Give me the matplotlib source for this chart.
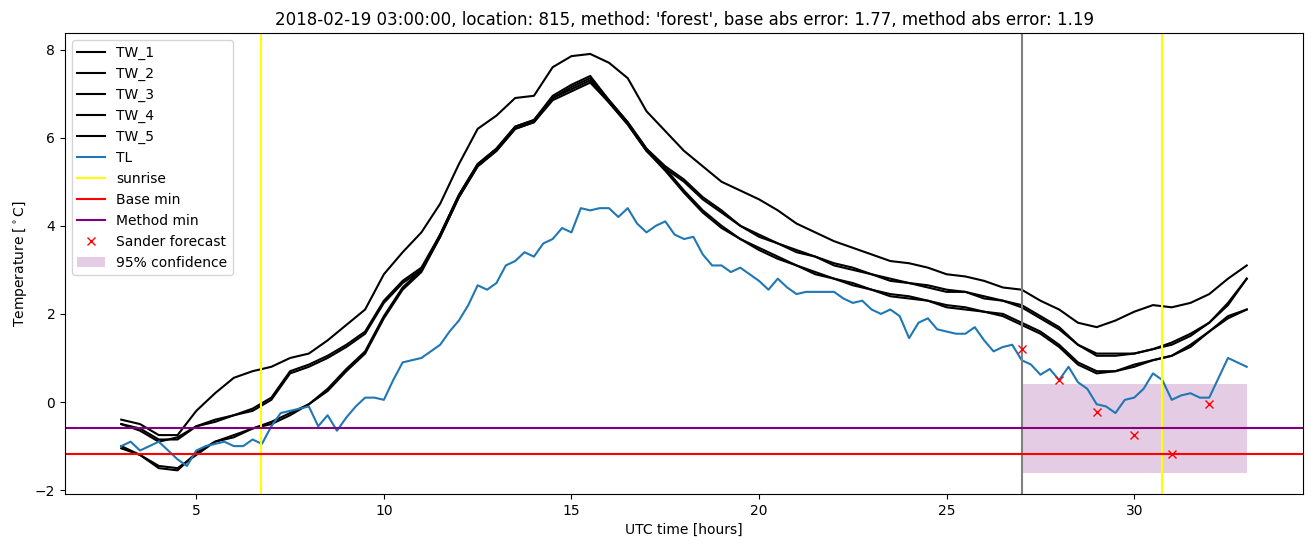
import numpy as np
import matplotlib
matplotlib.use("Agg")
import matplotlib.pyplot as plt

# half-hourly wet-bulb series, 03:00 to 33:00
tw_hours = np.arange(3.0, 33.01, 0.5)
tw_1 = [-0.4, -0.5, -0.75, -0.75, -0.2, 0.2, 0.55, 0.7, 0.8, 1.0, 1.1, 1.4, 1.75, 2.1, 2.9,
        3.4, 3.85, 4.5, 5.4, 6.2, 6.5, 6.9, 6.95, 7.6, 7.85, 7.9, 7.7, 7.35, 6.6, 6.15, 5.7,
        5.35, 5.0, 4.8, 4.6, 4.35, 4.05, 3.85, 3.65, 3.5, 3.35, 3.2, 3.15, 3.05, 2.9, 2.85,
        2.75, 2.6, 2.55, 2.3, 2.1, 1.8, 1.7, 1.85, 2.05, 2.2, 2.15, 2.25, 2.45, 2.8, 3.1]
tw_2 = [-0.5, -0.6, -0.85, -0.85, -0.55, -0.4, -0.3, -0.15, 0.1, 0.7, 0.85, 1.05, 1.3, 1.6,
        2.3, 2.75, 3.05, 3.8, 4.7, 5.4, 5.75, 6.25, 6.4, 6.95, 7.2, 7.4, 6.85, 6.35, 5.75, 5.35,
        5.05, 4.65, 4.35, 4.0, 3.8, 3.6, 3.45, 3.3, 3.15, 3.05, 2.9, 2.8, 2.7, 2.65, 2.55, 2.5,
        2.4, 2.3, 2.2, 1.95, 1.7, 1.3, 1.1, 1.1, 1.1, 1.2, 1.35, 1.55, 1.8, 2.25, 2.8]
tw_3 = [-0.5, -0.65, -0.9, -0.8, -0.55, -0.45, -0.3, -0.2, 0.05, 0.65, 0.8, 1.0, 1.25, 1.55,
        2.25, 2.7, 3.0, 3.75, 4.65, 5.35, 5.7, 6.2, 6.35, 6.9, 7.1, 7.3, 6.8, 6.3, 5.7, 5.3,
        5.0, 4.6, 4.3, 4.0, 3.75, 3.6, 3.4, 3.3, 3.1, 3.0, 2.9, 2.75, 2.7, 2.6, 2.5, 2.5,
        2.35, 2.3, 2.15, 1.9, 1.65, 1.3, 1.05, 1.05, 1.1, 1.2, 1.3, 1.5, 1.8, 2.2, 2.8]
tw_4 = [-1.0, -1.2, -1.45, -1.5, -1.2, -0.9, -0.75, -0.6, -0.45, -0.25, -0.05, 0.3, 0.75,
        1.15, 1.95, 2.6, 3.0, 3.8, 4.7, 5.4, 5.75, 6.25, 6.4, 6.9, 7.15, 7.35, 6.85, 6.35,
        5.75, 5.3, 4.8, 4.35, 4.0, 3.7, 3.5, 3.3, 3.1, 2.95, 2.8, 2.7, 2.55, 2.45, 2.4, 2.3,
        2.2, 2.15, 2.05, 2.0, 1.8, 1.6, 1.3, 0.9, 0.7, 0.7, 0.85, 0.95, 1.05, 1.3, 1.6, 1.95, 2.1]
tw_5 = [-1.05, -1.2, -1.5, -1.55, -1.15, -0.9, -0.8, -0.6, -0.5, -0.3, -0.05, 0.25, 0.7,
        1.1, 1.9, 2.55, 2.95, 3.75, 4.65, 5.35, 5.7, 6.2, 6.35, 6.85, 7.05, 7.25, 6.8, 6.3,
        5.7, 5.25, 4.75, 4.3, 3.95, 3.7, 3.45, 3.25, 3.1, 2.9, 2.8, 2.65, 2.55, 2.4, 2.35, 2.3,
        2.15, 2.1, 2.05, 1.95, 1.75, 1.55, 1.25, 0.85, 0.65, 0.7, 0.8, 0.95, 1.05, 1.25, 1.6, 1.9, 2.1]

# quarter-hourly air temperature
tl_hours = np.arange(3.0, 33.01, 0.25)
tl = [-1.0, -0.9, -1.1, -1.0, -0.9, -1.1, -1.3, -1.45, -1.1, -1.0, -0.95, -0.9, -1.0, -1.0,
      -0.85, -0.95, -0.55, -0.25, -0.2, -0.15, -0.1, -0.55, -0.3, -0.65, -0.35, -0.1, 0.1,
      0.1, 0.05, 0.5, 0.9, 0.95, 1.0, 1.15, 1.3, 1.6, 1.85, 2.2, 2.65, 2.55, 2.7, 3.1, 3.2,
      3.4, 3.3, 3.6, 3.7, 3.95, 3.85, 4.4, 4.35, 4.4, 4.4, 4.2, 4.4, 4.05, 3.85, 4.0, 4.1,
      3.8, 3.7, 3.75, 3.35, 3.1, 3.1, 2.95, 3.05, 2.9, 2.75, 2.55, 2.8, 2.6, 2.45, 2.5, 2.5,
      2.5, 2.5, 2.35, 2.25, 2.3, 2.1, 2.0, 2.1, 1.95, 1.45, 1.8, 1.9, 1.65, 1.6, 1.55, 1.55,
      1.7, 1.4, 1.15, 1.25, 1.3, 0.95, 0.85, 0.62, 0.75, 0.5, 0.8, 0.45, 0.3, -0.05, -0.1,
      -0.25, 0.05, 0.1, 0.3, 0.65, 0.5, 0.05, 0.15, 0.2, 0.1, 0.1, 0.55, 1.0, 0.9, 0.8]

sunrise = [6.73, 30.73]
forecast_start = 27.0
base_min = -1.17
method_min = -0.58
sander_hours = [27, 28, 29, 30, 31, 32]
sander_temp = [1.2, 0.51, -0.23, -0.74, -1.17, -0.05]
conf_hours = [27.0, 33.0]
conf_low = -1.61
conf_high = 0.41

fig = plt.figure(figsize=(13.13, 5.47), dpi=100)
ax = fig.add_subplot(111)
fig.subplots_adjust(left=0.0495, right=0.9924, bottom=0.097, top=0.9397)

for i, tw in enumerate([tw_1, tw_2, tw_3, tw_4, tw_5]):
    ax.plot(tw_hours, tw, color='black', label=f"TW_{i + 1}")
ax.plot(tl_hours, tl, label='TL')

ax.axvline(sunrise[0], color='yellow', label='sunrise')
ax.axvline(sunrise[1], color='yellow')
ax.axvline(forecast_start, color='grey')
ax.axhline(base_min, color='red', label='Base min')
ax.axhline(method_min, color='purple', label='Method min')
ax.plot(sander_hours, sander_temp, 'rx', label='Sander forecast')
ax.fill_between(conf_hours, conf_low, conf_high, color='purple', alpha=0.2,
                linewidth=0, label='95% confidence')

ax.set_xlabel('UTC time [hours]')
ax.set_ylabel(r'Temperature [$^\circ$C]')
ax.set_title("2018-02-19 03:00:00, location: 815, method: 'forest', "
             "base abs error: 1.77, method abs error: 1.19")
ax.legend(loc='upper left')

fig.savefig('out.png', dpi=100)
